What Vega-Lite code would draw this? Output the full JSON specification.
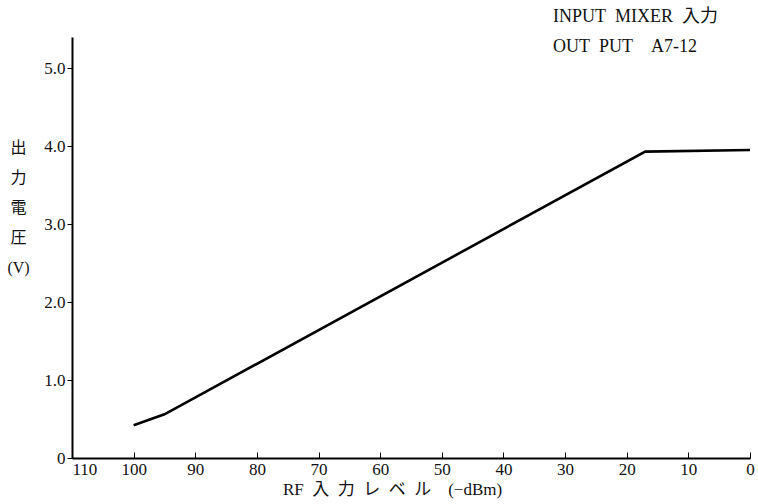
{
  "$schema": "https://vega.github.io/schema/vega-lite/v6.json",
  "width": 678,
  "height": 421,
  "autosize": "none",
  "padding": {"left": 72, "top": 37, "right": 8, "bottom": 46},
  "background": "white",
  "title": {
    "text": ["INPUT\u2002MIXER\u2002入力", "OUT\u2002PUT\u2002\u2002A7-12"],
    "anchor": "start",
    "align": "left",
    "baseline": "top",
    "dx": 546,
    "dy": 49,
    "offset": 30,
    "fontSize": 18,
    "fontWeight": "normal",
    "lineHeight": 30,
    "font": "Liberation Serif, Noto Sans CJK JP",
    "color": "#111"
  },
  "data": {
    "values": [
      {"level": 100, "volt": 0.42},
      {"level": 95, "volt": 0.56},
      {"level": 17, "volt": 3.93},
      {"level": 0, "volt": 3.95}
    ]
  },
  "mark": {"type": "line", "color": "#000", "strokeWidth": 2.6},
  "encoding": {
    "x": {
      "field": "level",
      "type": "quantitative",
      "scale": {"domain": [0, 110], "reverse": true, "nice": false, "zero": false},
      "axis": {
        "values": [0, 10, 20, 30, 40, 50, 60, 70, 80, 90, 100, 110],
        "grid": false,
        "tickSize": -6,
        "tickColor": "#000",
        "domainColor": "#000",
        "domainWidth": 2,
        "labelPadding": 9,
        "labelDx": 4,
        "labelAlign": {"condition": {"test": "datum.value == 110", "value": "left"}, "value": "center"},
        "labelFont": "Liberation Serif",
        "labelFontSize": 17,
        "labelColor": "#111",
        "labelFlush": false,
        "title": "RF\u2002入\u2002力\u2002レ\u2002ベ\u2002ル\u2003(−dBm)",
        "titleFont": "Liberation Serif, Noto Sans CJK JP",
        "titleFontSize": 17,
        "titleFontWeight": "normal",
        "titleColor": "#111",
        "titleX": 320,
        "titlePadding": 4
      }
    },
    "y": {
      "field": "volt",
      "type": "quantitative",
      "scale": {"domain": [0, 5.4], "nice": false},
      "axis": {
        "values": [0, 1, 2, 3, 4, 5],
        "labelExpr": "datum.value == 0 ? '0' : format(datum.value, '.1f')",
        "grid": false,
        "tickSize": 5,
        "tickColor": "#000",
        "domainColor": "#000",
        "domainWidth": 2,
        "labelPadding": 2,
        "labelFont": "Liberation Serif",
        "labelFontSize": 17,
        "labelColor": "#111",
        "labelFlush": false,
        "title": ["出", "力", "電", "圧", "(V)"],
        "titleAngle": 0,
        "titleAlign": "center",
        "titleBaseline": "alphabetic",
        "titleX": -54,
        "titleY": 115,
        "titleLineHeight": 30,
        "titleFont": "Liberation Serif, Noto Sans CJK JP",
        "titleFontSize": 16,
        "titleFontWeight": "normal",
        "titleColor": "#111"
      }
    }
  },
  "config": {"view": {"stroke": null}}
}
